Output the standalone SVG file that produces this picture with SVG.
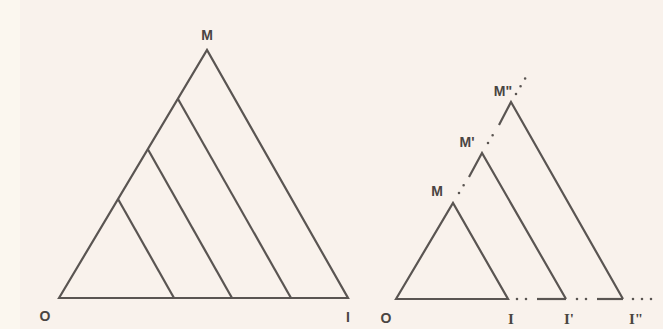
<svg xmlns="http://www.w3.org/2000/svg" width="663" height="329" viewBox="0 0 663 329">
<style>
.ln{fill:none;stroke:#5a5552;stroke-width:2.2;stroke-linejoin:miter}
.dt{fill:none;stroke:#5a5552;stroke-width:2.6;stroke-linecap:round;stroke-dasharray:0 9}
.lb{font-family:"Liberation Sans",Arial,sans-serif;font-size:14px;font-weight:bold;fill:#4a4542;text-anchor:middle}
.ls{font-family:"Liberation Serif","Times New Roman",serif;font-size:15px;font-weight:bold;fill:#4a4542;text-anchor:middle}
</style>
<rect width="663" height="329" fill="#f9f2ec"/>
<rect width="20" height="329" fill="#fbf7ef"/>
<g id="left-triangle">
<polygon class="ln" points="59,298 207,50 348,298"/>
<line class="ln" x1="118" y1="199" x2="174" y2="298"/>
<line class="ln" x1="148" y1="149.5" x2="232" y2="298"/>
<line class="ln" x1="178" y1="99" x2="291" y2="298"/>
<text class="lb" x="207" y="40">M</text>
<text class="lb" x="45" y="321">O</text>
<text class="lb" x="348" y="322">I</text>
</g>
<g id="tri-1">
<polygon class="ln" points="396,299 453,203 508,299"/>
<text class="lb" x="437" y="196">M</text>
</g>
<g id="tri-2">
<polyline class="ln" points="469,177 482,153 566,299"/>
<text class="lb" x="467" y="147">M'</text>
</g>
<g id="tri-3">
<polyline class="ln" points="499,125 511,102 623,299"/>
<text class="lb" x="503" y="96">M"</text>
</g>
<g id="connectors">
<line class="ln" x1="537" y1="299" x2="566" y2="299"/>
<line class="ln" x1="597" y1="299" x2="623" y2="299"/>
<path class="dt" d="M517,299 H530 M577,299 H590 M633,299 H656"/>
<path class="dt" d="M459,193 L465,183 M488,143 L494,133 M516,94 L526,77"/>
</g>
<g id="base-labels">
<text class="lb" x="386" y="323">O</text>
<text class="ls" x="511" y="324">I</text>
<text class="ls" x="569" y="324">I'</text>
<text class="ls" x="636" y="324">I"</text>
</g>
</svg>
